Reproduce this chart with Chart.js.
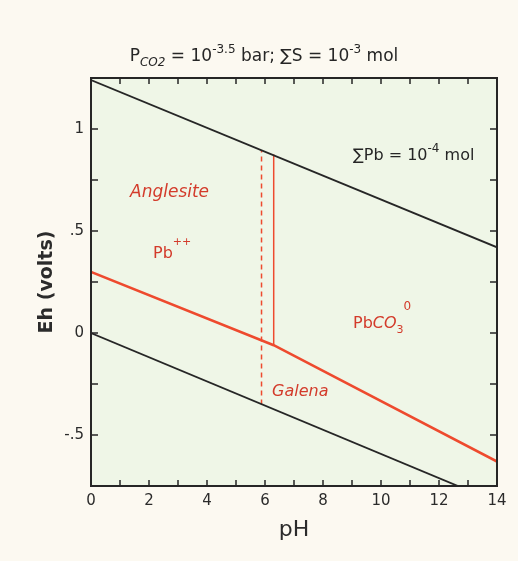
<!DOCTYPE html>
<html lang="en">
<head>
<meta charset="UTF-8">
<title>Eh-pH diagram, Pb-S-C-O-H</title>
<script src="https://cdn.jsdelivr.net/npm/chart.js"></script>
<style>
  html, body { margin: 0; padding: 0; background: #fcf9f1; }
  canvas { display: block; }
</style>
</head>
<body>
<canvas id="ehph" width="518" height="561"></canvas>
<script>
// water stability limits (black)
const upperPH = [0, 14];
const upperEh = [1.24, 0.42];
const lowerPH = [0, 14];
const lowerEh = [0, -0.83];
// Pb++ / PbCO3 -> galena boundary (red)
const redPH = [0, 6.3, 14];
const redEh = [0.30, -0.06, -0.63];
// Pb++ | PbCO3 boundary
const solidVPH = [6.3, 6.3];
const solidVEh = [-0.06, 0.875];
// anglesite field limit (dashed)
const dashVPH = [5.88, 5.88];
const dashVEh = [-0.35, 0.895];

const xTicks = [0, 2, 4, 6, 8, 10, 12, 14];
const xMinorTicks = [1, 3, 5, 7, 9, 11, 13];
const yTicks = [-0.5, 0, 0.5, 1];
const yTickLabels = ['-.5', '0', '.5', '1'];
const yMinorTicks = [-0.25, 0.25, 0.75];

const RED = '#ee4a2e';
const TXT_RED = '#d33b2b';
const INK = '#262626';
const FONT = '"DejaVu Sans", sans-serif';

const pts = (xs, ys) => xs.map((x, i) => ({ x: x, y: ys[i] }));

// draw a run of text pieces (sub/superscripts) from x, baseline y
function drawRuns(ctx, runs, x, y, align) {
    let total = 0;
    runs.forEach(r => { ctx.font = r.font; r.w = ctx.measureText(r.t).width; total += r.w + (r.gap || 0); });
    let cx = align === 'center' ? x - total / 2 : x;
    runs.forEach(r => {
        ctx.font = r.font;
        ctx.fillStyle = r.color;
        ctx.textAlign = 'left';
        ctx.textBaseline = 'alphabetic';
        ctx.fillText(r.t, cx, y + (r.dy || 0));
        cx += r.w + (r.gap || 0);
    });
}

const framePlugin = {
    id: 'frame',
    beforeDraw(chart) {
        const ctx = chart.ctx, a = chart.chartArea;
        ctx.save();
        ctx.fillStyle = '#fcf9f1';
        ctx.fillRect(0, 0, chart.width, chart.height);
        ctx.fillStyle = '#eff6e7';
        ctx.fillRect(a.left, a.top, a.right - a.left, a.bottom - a.top);
        ctx.restore();
    },
    afterDatasetsDraw(chart) {
        const ctx = chart.ctx, a = chart.chartArea;
        const xs = chart.scales.x, ys = chart.scales.y;
        ctx.save();
        ctx.strokeStyle = INK;
        ctx.lineWidth = 1.5;
        ctx.beginPath();
        xTicks.concat(xMinorTicks).forEach(v => {
            const px = xs.getPixelForValue(v);
            ctx.moveTo(px, a.bottom); ctx.lineTo(px, a.bottom - 6);
            ctx.moveTo(px, a.top); ctx.lineTo(px, a.top + 6);
        });
        yTicks.concat(yMinorTicks).forEach(v => {
            const py = ys.getPixelForValue(v);
            ctx.moveTo(a.left, py); ctx.lineTo(a.left + 7, py);
            ctx.moveTo(a.right, py); ctx.lineTo(a.right - 7, py);
        });
        ctx.stroke();
        ctx.lineWidth = 2;
        ctx.strokeRect(a.left, a.top, a.right - a.left, a.bottom - a.top);
        ctx.restore();
    },
    afterDraw(chart) {
        const ctx = chart.ctx;
        ctx.save();
        const big = '17px ' + FONT, small = '12px ' + FONT;
        drawRuns(ctx, [
            { t: 'P', font: big, color: INK },
            { t: 'CO2', font: 'italic ' + small, color: INK, dy: 5 },
            { t: ' = 10', font: big, color: INK },
            { t: '-3.5', font: small, color: INK, dy: -8 },
            { t: ' bar; \u2211S = 10', font: big, color: INK },
            { t: '-3', font: small, color: INK, dy: -8 },
            { t: ' mol', font: big, color: INK }
        ], 264, 61, 'center');
        drawRuns(ctx, [
            { t: '\u2211Pb = 10', font: '16px ' + FONT, color: INK },
            { t: '-4', font: small, color: INK, dy: -8 },
            { t: ' mol', font: '16px ' + FONT, color: INK }
        ], 353, 160, 'left');
        const lab = 'italic 16px ' + FONT;
        drawRuns(ctx, [{ t: 'Anglesite', font: 'italic 17px ' + FONT, color: TXT_RED }], 130, 197, 'left');
        drawRuns(ctx, [
            { t: 'Pb', font: '16px ' + FONT, color: TXT_RED },
            { t: '++', font: '11px ' + FONT, color: TXT_RED, dy: -13 }
        ], 153, 258, 'left');
        drawRuns(ctx, [
            { t: 'Pb', font: '16px ' + FONT, color: TXT_RED },
            { t: 'CO', font: lab, color: TXT_RED },
            { t: '3', font: '11px ' + FONT, color: TXT_RED, dy: 5 },
            { t: '0', font: '12px ' + FONT, color: TXT_RED, dy: -18 }
        ], 353, 328, 'left');
        drawRuns(ctx, [{ t: 'Galena', font: lab, color: TXT_RED }], 272, 396, 'left');
        ctx.restore();
    }
};

const lineSet = (xs, ys, color, width, dash) => ({
    data: pts(xs, ys),
    borderColor: color,
    borderWidth: width,
    borderDash: dash || [],
    pointRadius: 0,
    fill: false,
    tension: 0
});

new Chart(document.getElementById('ehph').getContext('2d'), {
    type: 'line',
    data: {
        datasets: [
            lineSet(upperPH, upperEh, INK, 1.8),
            lineSet(lowerPH, lowerEh, INK, 1.8),
            lineSet(dashVPH, dashVEh, RED, 1.5, [5, 4]),
            lineSet(solidVPH, solidVEh, RED, 1.5),
            lineSet(redPH, redEh, RED, 2.5)
        ]
    },
    options: {
        responsive: false,
        animation: false,
        layout: { padding: { left: 0, right: 21, top: 78, bottom: 0 } },
        plugins: { legend: { display: false }, tooltip: { enabled: false } },
        scales: {
            x: {
                type: 'linear', min: 0, max: 14,
                grid: { display: false, drawTicks: false },
                border: { display: false },
                afterBuildTicks: s => { s.ticks = xTicks.map(v => ({ value: v })); },
                afterFit: s => { s.height = 75; },
                ticks: { font: { family: FONT, size: 15 }, color: '#2b2b2b', padding: 6, maxRotation: 0, autoSkip: false },
                title: { display: true, text: 'pH', color: '#2b2b2b', font: { family: FONT, size: 22 }, padding: { top: 0, bottom: 18 } }
            },
            y: {
                type: 'linear', min: -0.75, max: 1.25,
                grid: { display: false, drawTicks: false },
                border: { display: false },
                afterBuildTicks: s => { s.ticks = yTicks.map(v => ({ value: v })); },
                afterFit: s => { s.width = 91; },
                ticks: {
                    font: { family: FONT, size: 15 }, color: '#2b2b2b', padding: 7, autoSkip: false,
                    callback: v => yTickLabels[yTicks.indexOf(v)]
                },
                title: { display: true, text: 'Eh (volts)', color: '#2b2b2b', font: { family: FONT, size: 19, weight: 'bold' }, padding: { top: 36, bottom: 0 } }
            }
        }
    },
    plugins: [framePlugin]
});
</script>
</body>
</html>
